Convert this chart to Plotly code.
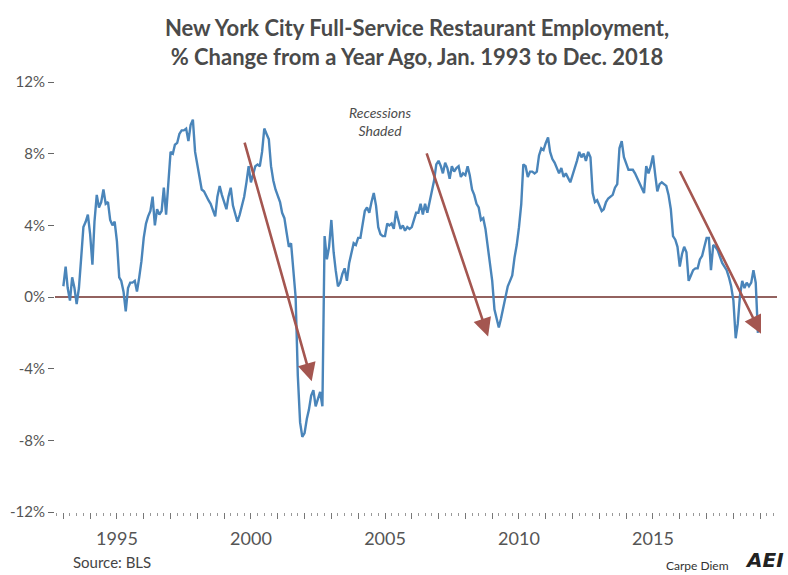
import pandas as pd
import plotly.graph_objects as go

# Monthly % change from a year ago, NYC full-service restaurant employment
y1993 = [0.6, 1.7, 0.5, -0.2, 1.1, 0.5, -0.4, 0.5, 2.2, 3.9, 4.2, 4.6]
y1994 = [3.5, 1.8, 4.2, 5.7, 5.0, 5.3, 6.0, 5.2, 5.3, 4.3, 4.0, 4.2]
y1995 = [3.1, 1.1, 0.9, 0.3, -0.8, 0.5, 0.8, 0.8, 0.9, 0.3, 1.1, 2.0]
y1996 = [3.3, 4.1, 4.5, 4.8, 5.6, 4.0, 4.9, 4.6, 4.8, 6.1, 4.6, 6.1]
y1997 = [8.1, 8.0, 8.5, 8.6, 9.1, 9.3, 9.3, 9.4, 8.7, 9.6, 9.9, 8.1]
y1998 = [7.3, 6.5, 6.0, 5.9, 5.6, 5.4, 5.2, 4.9, 4.5, 5.6, 6.2, 5.7]
y1999 = [5.3, 4.9, 5.6, 6.1, 5.1, 4.6, 4.2, 4.6, 5.1, 5.6, 6.4, 7.3]
y2000 = [6.4, 6.9, 7.3, 7.4, 7.3, 8.1, 9.4, 9.1, 8.8, 7.3, 6.5, 6.0]
y2001 = [5.7, 5.3, 4.7, 4.4, 3.6, 2.8, 3.0, 1.5, 0.0, -4.4, -7.0, -7.8]
y2002 = [-7.6, -6.8, -6.3, -5.5, -5.2, -6.1, -5.7, -5.3, -6.1, 3.4, 2.1, 2.8]
y2003 = [4.3, 2.5, 1.5, 0.6, 0.8, 1.3, 1.6, 0.9, 1.9, 2.5, 3.0, 2.9]
y2004 = [3.3, 3.3, 4.1, 4.8, 5.0, 4.7, 5.3, 5.8, 5.1, 3.9, 3.5, 3.4]
y2005 = [3.4, 4.1, 4.0, 4.1, 3.8, 4.8, 4.3, 3.8, 4.0, 3.7, 3.9, 3.8]
y2006 = [3.9, 4.3, 4.7, 4.7, 5.2, 4.6, 5.2, 4.7, 5.3, 5.8, 6.5, 7.4]
y2007 = [7.6, 7.3, 6.9, 7.5, 7.2, 6.6, 7.3, 7.0, 7.2, 7.3, 6.7, 6.9]
y2008 = [6.8, 7.3, 6.8, 6.0, 5.7, 5.2, 5.0, 4.3, 4.4, 3.8, 2.8, 1.7]
y2009 = [0.9, -0.7, -1.2, -1.7, -1.2, -0.6, 0.0, 0.6, 0.9, 1.2, 2.2, 2.9]
y2010 = [3.9, 5.2, 7.4, 7.3, 6.7, 7.0, 7.0, 6.9, 7.0, 7.9, 8.3, 8.2]
y2011 = [8.6, 8.9, 8.1, 7.7, 7.5, 7.2, 6.9, 7.2, 6.7, 6.9, 6.6, 6.4]
y2012 = [6.8, 7.3, 7.6, 8.1, 7.8, 8.0, 7.6, 8.1, 7.8, 5.8, 5.3, 5.4]
y2013 = [5.1, 4.8, 4.9, 5.3, 5.5, 5.6, 5.7, 6.1, 6.3, 8.3, 8.7, 7.8]
y2014 = [7.4, 7.1, 7.1, 7.1, 6.9, 6.6, 6.3, 6.0, 5.8, 7.3, 6.9, 7.3]
y2015 = [7.9, 6.8, 5.9, 6.3, 6.4, 6.3, 6.2, 5.7, 4.9, 3.4, 3.2, 2.8]
y2016 = [1.7, 2.4, 2.8, 2.5, 0.9, 1.2, 1.5, 1.6, 1.6, 2.1, 2.3, 2.8]
y2017 = [3.3, 3.3, 1.5, 2.9, 2.8, 2.6, 2.3, 1.9, 1.7, 1.5, 1.1, 0.6]
y2018 = [-0.2, -2.3, -1.5, 0.1, 0.9, 0.5, 0.8, 0.6, 0.8, 1.5, 0.8, -2.0]

yearly = [y1993, y1994, y1995, y1996, y1997, y1998, y1999, y2000, y2001,
          y2002, y2003, y2004, y2005, y2006, y2007, y2008, y2009, y2010,
          y2011, y2012, y2013, y2014, y2015, y2016, y2017, y2018]
values = [v for yr in yearly for v in yr]
dates = pd.date_range("1993-01-01", periods=len(values), freq="MS")

y_ticks = [12, 8, 4, 0, -4, -8, -12]
y_tick_text = ["12%", "8%", "4%", "0%", "-4%", "-8%", "-12%"]
x_label_years = [1995, 2000, 2005, 2010, 2015]

# Recession arrows (start -> end), in data coordinates
arrow_starts = [("1999-10-01", 8.7), ("2006-07-16", 8.1), ("2015-12-24", 7.1)]
arrow_ends = [("2002-04-08", -4.7), ("2008-11-06", -2.2), ("2019-01-12", -2.05)]

GRAY = "#555555"
FONT = "Lato"
W, H = 788, 575
L, R, T, B = 55, 11, 82, 63

fig = go.Figure()
fig.add_trace(go.Scatter(x=dates, y=values, mode="lines",
                         line=dict(color="#4A85BA", width=2.4),
                         hoverinfo="skip", showlegend=False))

all_years = list(range(1993, 2020))
fig.update_xaxes(
    type="date",
    range=["1992-09-09", "2019-08-18"],
    tickmode="array",
    tickvals=[f"{y}-01-01" for y in all_years],
    ticktext=[str(y) if y in x_label_years else "" for y in all_years],
    ticks="outside", ticklen=6, tickwidth=1, tickcolor="#777777",
    minor=dict(dtick="M3", tick0="1993-01-01", ticks="outside", ticklen=3,
               tickwidth=1, tickcolor="#999999"),
    showline=False, showgrid=False, zeroline=False,
    tickfont=dict(family=FONT, size=18, color=GRAY),
    ticklabelstandoff=4,
)
fig.update_yaxes(
    range=[-12, 12],
    tickmode="array", tickvals=y_ticks, ticktext=y_tick_text,
    ticks="outside", ticklen=6, tickwidth=1.2, tickcolor="#666666",
    showline=False, showgrid=False,
    zeroline=True, zerolinecolor="#93625F", zerolinewidth=2.2,
    tickfont=dict(family=FONT, size=15, color=GRAY),
)

for (sx, sy), (ex, ey) in zip(arrow_starts, arrow_ends):
    fig.add_annotation(
        x=ex, y=ey, ax=sx, ay=sy, xref="x", yref="y", axref="x", ayref="y",
        text="", showarrow=True, arrowhead=2, arrowsize=1.4, arrowwidth=2.6,
        arrowcolor="#A45650",
    )

def px(xp):
    return (xp - L) / (W - L - R)

def py(yp):
    return (H - B - yp) / (H - T - B)

texts = [
    dict(text="<i>Recessions<br>Shaded</i>", x=px(380), y=py(121),
         font=dict(family=FONT, size=14, color="#4d4d4d"), align="center"),
    dict(text="Source: BLS", x=px(112), y=py(562),
         font=dict(family=FONT, size=15, color="#444444")),
    dict(text="Carpe Diem", x=px(697), y=py(565),
         font=dict(family=FONT, size=12, color="#333333")),
    dict(text="<b><i>AEI</i></b>", x=px(764), y=py(560),
         font=dict(family="DejaVu Sans", size=20, color="#222222")),
]
for t in texts:
    fig.add_annotation(xref="paper", yref="paper", showarrow=False,
                       xanchor="center", yanchor="middle", **t)

fig.update_layout(
    width=W, height=H,
    margin=dict(l=L, r=R, t=T, b=B),
    paper_bgcolor="white", plot_bgcolor="white",
    title=dict(
        text="New York City Full-Service Restaurant Employment,<br>"
             "% Change from a Year Ago, Jan. 1993 to Dec. 2018",
        x=417 / W, xanchor="center", y=1 - 36 / H, yanchor="middle",
        font=dict(family=FONT, size=22, color="#4a4a4a", weight="bold"),
    ),
)

fig.write_html("out.html")
